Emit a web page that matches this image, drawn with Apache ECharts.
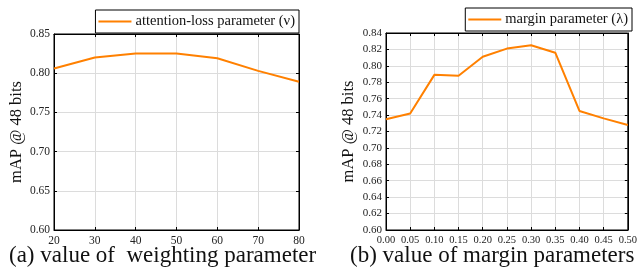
<!DOCTYPE html>
<html>
<head>
<meta charset="utf-8">
<script src="https://cdn.jsdelivr.net/npm/echarts@6/dist/echarts.min.js"></script>
<style>
  html, body { margin: 0; padding: 0; background: #fff; }
  #chart { width: 640px; height: 280px; }
</style>
</head>
<body>
<div id="chart"></div>
<script>
// (a) weighting parameter
const weightX = [20, 30, 40, 50, 60, 70, 80]
const weightMap = [0.806, 0.820, 0.825, 0.825, 0.819, 0.803, 0.789]
// (b) margin parameter
const marginX = [0.00, 0.05, 0.10, 0.15, 0.20, 0.25, 0.30, 0.35, 0.40, 0.45, 0.50]
const marginMap = [0.735, 0.742, 0.789, 0.788, 0.811, 0.821, 0.825, 0.816, 0.745, 0.736, 0.728]

const font = 'Liberation Serif'
const orange = '#ff8000'

const chart = echarts.init(document.getElementById('chart'))

function xAx(gridIndex, min, max, interval, fmt, fontSize, top) {
  return {
    type: 'value', gridIndex, min, max, interval,
    position: top ? 'top' : 'bottom',
    axisLine: { show: true, onZero: false, lineStyle: { color: '#000', width: 1 } },
    axisTick: { show: true, inside: true, length: 3, lineStyle: { color: '#000' } },
    axisLabel: top ? { show: false } : {
      show: true, margin: 5, color: '#222', fontFamily: font, fontSize,
      formatter: fmt
    },
    splitLine: { show: !top, lineStyle: { color: '#dcdcdc', width: 1 } }
  }
}
function yAx(gridIndex, min, max, interval, fontSize, right) {
  return {
    type: 'value', gridIndex, min, max, interval,
    position: right ? 'right' : 'left',
    name: right ? '' : 'mAP @ 48 bits',
    nameLocation: 'middle', nameGap: 29,
    nameTextStyle: { fontFamily: font, fontSize: 16.5, color: '#111' },
    axisLine: { show: true, onZero: false, lineStyle: { color: '#000', width: 1 } },
    axisTick: { show: true, inside: true, length: 3, lineStyle: { color: '#000' } },
    axisLabel: right ? { show: false } : {
      show: true, margin: 4, color: '#222', fontFamily: font, fontSize,
      formatter: v => v.toFixed(2)
    },
    splitLine: { show: !right, lineStyle: { color: '#dcdcdc', width: 1 } }
  }
}

const legendBase = {
  backgroundColor: '#fff', borderColor: '#000', borderWidth: 1,
  padding: [4, 4, 4, 3], itemWidth: 33, itemHeight: 2, itemGap: 4,
  icon: 'rect', z: 10,
  textStyle: { fontFamily: font, fontSize: 14.5, color: '#111', padding: [0, 0, 0, -1] }
}

chart.setOption({
  animation: false,
  grid: [
    { left: 54, top: 34, right: 341, bottom: 50, show: true, borderColor: '#000', borderWidth: 1 },
    { left: 386, top: 33, right: 8, bottom: 50, show: true, borderColor: '#000', borderWidth: 1 }
  ],
  title: [
    { text: '(a) value of  weighting parameter', left: 4, top: 239,
      textStyle: { fontFamily: font, fontSize: 23, fontWeight: 'normal', color: '#111' } },
    { text: '(b) value of margin parameters', left: 345, top: 239,
      textStyle: { fontFamily: font, fontSize: 23, fontWeight: 'normal', color: '#111' } }
  ],
  legend: [
    Object.assign({}, legendBase, { data: ['attention-loss parameter (ν)'], right: 341, top: 10 }),
    Object.assign({}, legendBase, { data: ['margin parameter (λ)'], right: 8, top: 8 })
  ],
  xAxis: [
    xAx(0, 20, 80, 10, v => String(v), 11.5, false),
    xAx(1, 0, 0.5, 0.05, v => v.toFixed(2), 10.5, false),
    xAx(0, 20, 80, 10, null, 11, true),
    xAx(1, 0, 0.5, 0.05, null, 10.5, true)
  ],
  yAxis: [
    yAx(0, 0.60, 0.85, 0.05, 11.5, false),
    yAx(1, 0.60, 0.84, 0.02, 11, false),
    yAx(0, 0.60, 0.85, 0.05, 11.5, true),
    yAx(1, 0.60, 0.84, 0.02, 11, true)
  ],
  series: [
    {
      name: 'attention-loss parameter (ν)', type: 'line',
      xAxisIndex: 0, yAxisIndex: 0, symbol: 'none',
      lineStyle: { color: orange, width: 2 }, itemStyle: { color: orange },
      data: weightX.map((x, i) => [x, weightMap[i]]), z: 5
    },
    {
      name: 'margin parameter (λ)', type: 'line',
      xAxisIndex: 1, yAxisIndex: 1, symbol: 'none',
      lineStyle: { color: orange, width: 2 }, itemStyle: { color: orange },
      data: marginX.map((x, i) => [x, marginMap[i]]), z: 5
    }
  ]
})
</script>
</body>
</html>
